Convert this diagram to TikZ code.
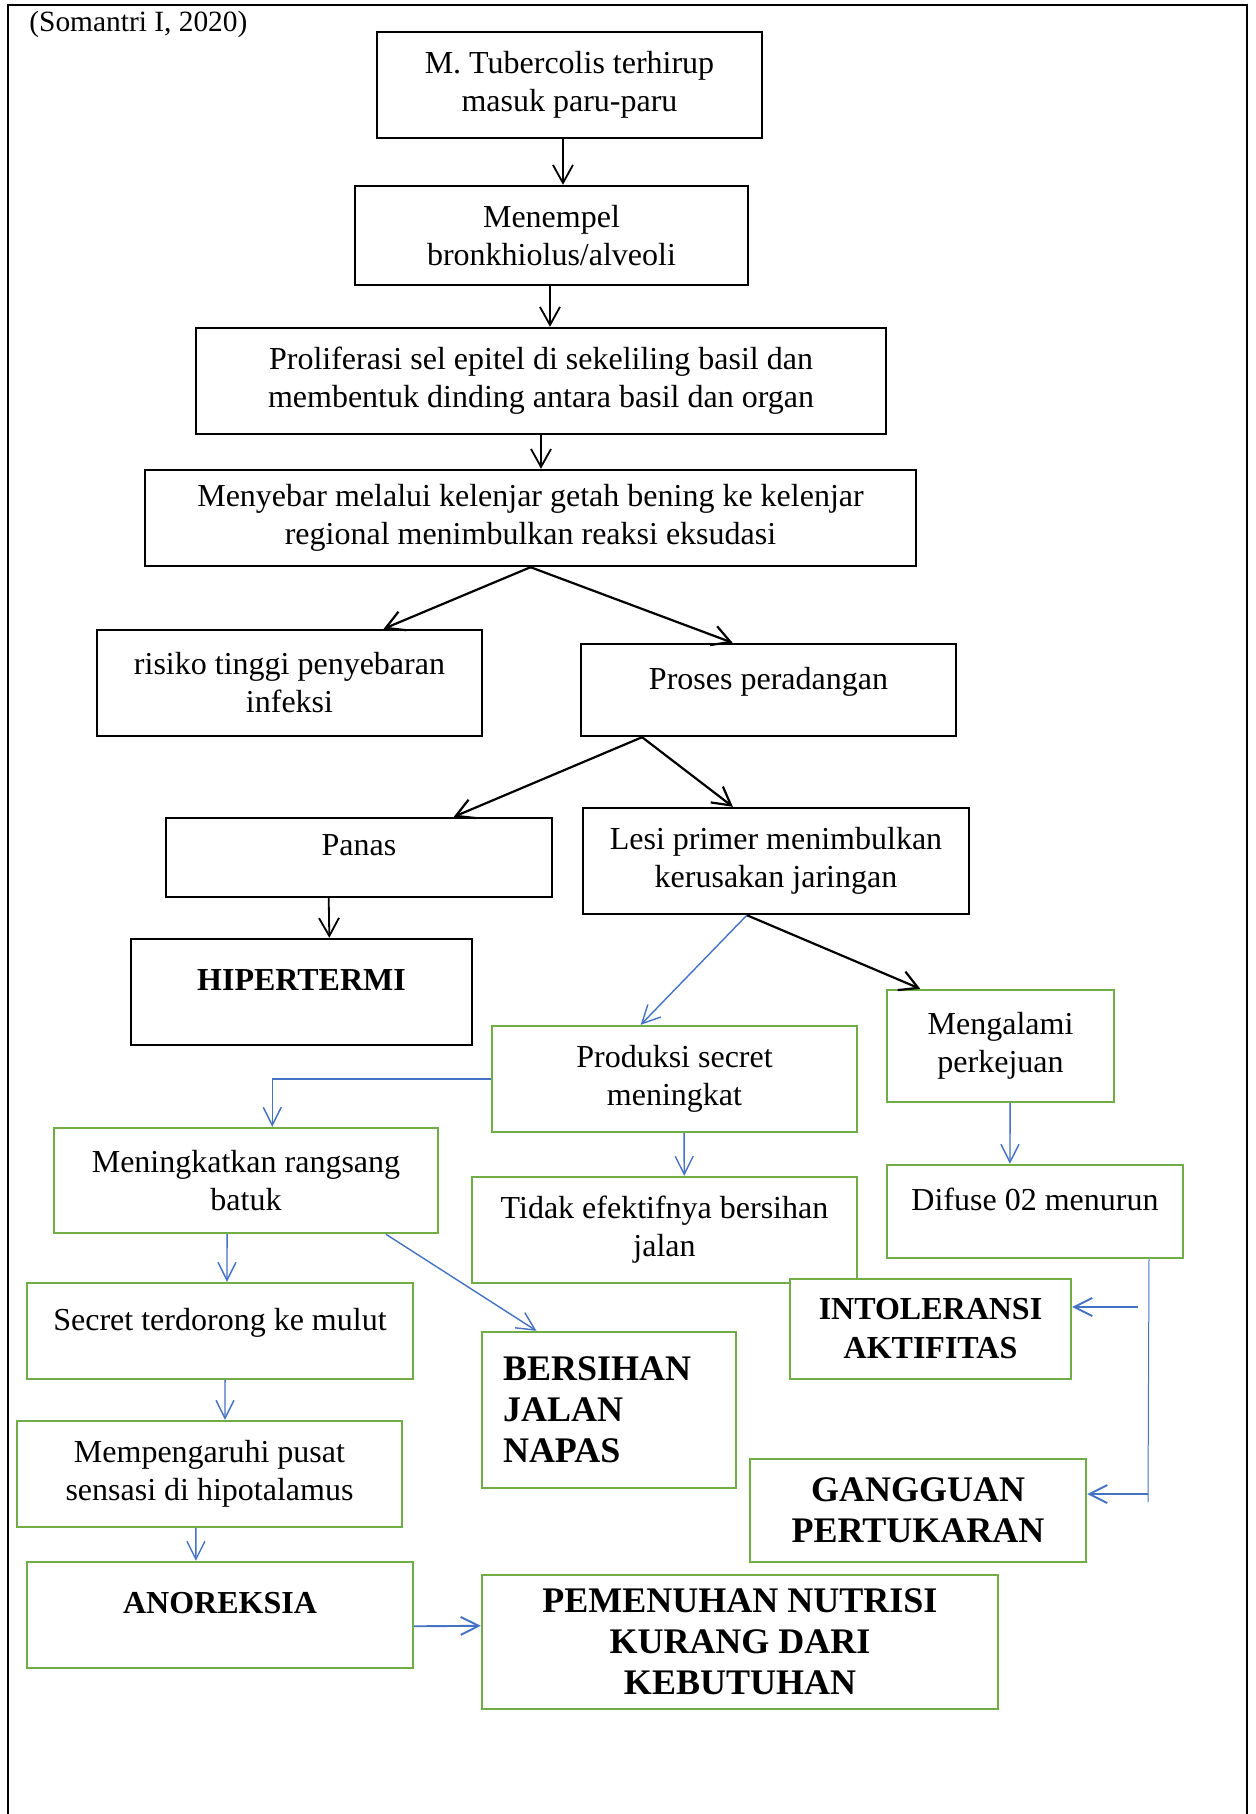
\documentclass[tikz,border=0pt]{standalone}
\usepackage{fontspec}
\setmainfont{Liberation Serif}
\usetikzlibrary{arrows.meta,positioning,calc}
\definecolor{boxgreen}{HTML}{70AD47}
\definecolor{arrblue}{HTML}{4472C4}

\begin{document}
\begin{tikzpicture}[x=0.5pt,y=-0.5pt,
    box/.style={draw, line width=1.2pt, fill=white, align=center, inner sep=0pt, font=\fontsize{16}{19}\selectfont},
    gbox/.style={box, draw=boxgreen},
    lift/.style={text depth=12pt},
    bold/.style={font=\fontsize{16}{19.5}\selectfont\bfseries},
    big/.style={font=\fontsize{18}{20.5}\selectfont\bfseries},
    arr/.style={-{Straight Barb[length=9pt,width=10pt]}, line width=0.9pt},
    barr/.style={-{Straight Barb[length=9pt,width=9pt]}, draw=arrblue, line width=0.7pt},
    warr/.style={barr, line width=0.95pt}
]
\useasboundingbox (0,0) rectangle (1256,1814);
\draw[line width=1pt] (8,1814) -- (8,5.5) -- (1247,5.5) -- (1247,1814);

\node[anchor=base west, inner sep=0pt, font=\fontsize{14.7}{17}\selectfont] (src) at (29,32) {(Somantri I, 2020)};

% black part
\node[box, minimum width=192.5pt, minimum height=53pt] (tb) at (569.5,85) {M. Tubercolis terhirup\\masuk paru-paru};
\node[box, minimum width=196.5pt, minimum height=49.5pt] (mp) at (551.5,235.5) {Menempel\\bronkhiolus/alveoli};
\node[box, minimum width=345pt, minimum height=53pt] (pro) at (541,381) {Proliferasi sel epitel di sekeliling basil dan\\membentuk dinding antara basil dan organ};
\node[box, minimum width=385.5pt, minimum height=48pt] (myb) at (530.5,518) {Menyebar melalui kelenjar getah bening ke kelenjar\\regional menimbulkan reaksi eksudasi};
\node[box, minimum width=192.5pt, minimum height=53pt] (ris) at (289.5,683) {risiko tinggi penyebaran\\infeksi};
\node[box, lift, minimum width=187.5pt, minimum height=46pt] (prs) at (768.5,690) {Proses peradangan};
\node[box, lift, minimum width=193pt, minimum height=39.5pt] (pns) at (359,857.5) {Panas};
\node[box, minimum width=193pt, minimum height=53pt] (lesi) at (776,861) {Lesi primer menimbulkan\\kerusakan jaringan};
\node[box, bold, lift, minimum width=170.5pt, minimum height=53pt] (hip) at (301.5,992) {HIPERTERMI};

% green part
\node[gbox, minimum width=182.5pt, minimum height=53pt] (prod) at (674.5,1079) {Produksi secret\\meningkat};
\node[gbox, minimum width=113.5pt, minimum height=56pt] (keju) at (1000.5,1046) {Mengalami\\perkejuan};
\node[gbox, minimum width=192pt, minimum height=52.5pt] (batuk) at (246,1180.5) {Meningkatkan rangsang\\batuk};
\node[gbox, minimum width=192.5pt, minimum height=53pt] (tidak) at (664.5,1230) {Tidak efektifnya bersihan\\jalan};
\node[gbox, lift, minimum width=148pt, minimum height=46.5pt] (dif) at (1035,1211.5) {Difuse 02 menurun};
\node[gbox, lift, minimum width=193pt, minimum height=48pt] (sec) at (220,1331) {Secret terdorong ke mulut};
\node[gbox, big, align=left, text width=106pt, minimum width=127pt, minimum height=78pt] (bjn) at (609,1410) {BERSIHAN\\JALAN\\NAPAS};
\node[gbox, bold, minimum width=140.5pt, minimum height=50pt] (into) at (930.5,1329) {INTOLERANSI\\AKTIFITAS};
\node[gbox, minimum width=192.5pt, minimum height=53pt] (mpg) at (209.5,1474) {Mempengaruhi pusat\\sensasi di hipotalamus};
\node[gbox, big, minimum width=168pt, minimum height=51.5pt] (gng) at (918,1510.5) {GANGGUAN\\PERTUKARAN};
\node[gbox, bold, lift, minimum width=193pt, minimum height=53pt] (ano) at (220,1615) {ANOREKSIA};
\node[gbox, big, minimum width=258pt, minimum height=67pt] (nut) at (740,1642) {PEMENUHAN NUTRISI\\KURANG DARI\\KEBUTUHAN};

\coordinate (vend) at (1148,1502);
\coordinate (tap1) at (1138,1307);
\coordinate (tap2) at (1148,1494);

% black arrows
\draw[arr] ($(tb.south west)!.483!(tb.south east)$) -- ($(mp.north west)!.529!(mp.north east)$);
\draw[arr] ($(mp.south west)!.496!(mp.south east)$) -- ($(pro.north west)!.513!(pro.north east)$);
\draw[arr] (pro.south) -- (pro.south |- myb.north);
\draw[arr, line width=1.1pt] (myb.south) -- ($(ris.north west)!.743!(ris.north east)$);
\draw[arr, line width=1.1pt] (myb.south) -- ($(prs.north west)!.405!(prs.north east)$);
\draw[arr, line width=1.1pt] ($(prs.south west)!.165!(prs.south east)$) -- ($(pns.north west)!.744!(pns.north east)$);
\draw[arr, line width=1.1pt] ($(prs.south west)!.165!(prs.south east)$) -- ($(lesi.north west)!.389!(lesi.north east)$);
\draw[arr] ($(pns.south west)!.422!(pns.south east)$) -- ($(hip.north west)!.581!(hip.north east)$);
\draw[arr, line width=1.1pt] ($(lesi.south west)!.425!(lesi.south east)$) -- ($(keju.north west)!.15!(keju.north east)$);

% blue arrows
\draw[barr] ($(lesi.south west)!.425!(lesi.south east)$) -- ($(prod.north west)!.408!(prod.north east)$);
\draw[barr] (prod.west) -| ($(batuk.north west)!.568!(batuk.north east)$);
\draw[barr] ($(prod.south west)!.526!(prod.south east)$) -- ($(tidak.north west)!.551!(tidak.north east)$);
\draw[barr] ($(keju.south west)!.542!(keju.south east)$) -- ($(dif.north west)!.416!(dif.north east)$);
\draw[barr] ($(batuk.south west)!.451!(batuk.south east)$) -- ($(sec.north west)!.518!(sec.north east)$);
\draw[barr] ($(batuk.south west)!.862!(batuk.south east)$) -- ($(bjn.north west)!.217!(bjn.north east)$);
\draw[barr] ($(sec.south west)!.513!(sec.south east)$) -- ($(mpg.north west)!.540!(mpg.north east)$);
\draw[barr] ($(mpg.south west)!.465!(mpg.south east)$) -- ($(ano.north west)!.438!(ano.north east)$);
\draw[warr] ($(ano.north east)!.604!(ano.south east)$) -- ($(nut.north west)!.381!(nut.south west)$);
\draw[barr, -, line width=0.5pt] ($(dif.south west)!.882!(dif.south east)$) -- (vend);
\draw[warr] (tap1) -- (tap1 -| into.east);
\draw[warr] (tap2) -- (tap2 -| gng.east);
\end{tikzpicture}
\end{document}
